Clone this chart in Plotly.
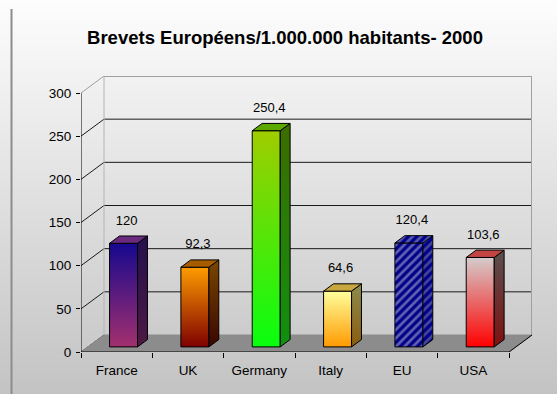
import plotly.graph_objects as go

# ---- data ----
categories = ["France", "UK", "Germany", "Italy", "EU", "USA"]
values = [120, 92.3, 250.4, 64.6, 120.4, 103.6]
y_ticks = [0, 50, 100, 150, 200, 250, 300]
title_text = "Brevets Européens/1.000.000 habitants- 2000"

# ---- page / plot geometry (pixels) ----
W, H = 557, 394
M_L, M_R, M_T, M_B = 81, 25, 76, 42
FRONT_W_PX = 428          # width of the front category axis
DEPTH_PX = (23, 17)       # oblique offset of the back wall
Y_MAX = 300

px_per_cat = FRONT_W_PX / len(categories)
px_per_unit = (H - M_T - M_B - DEPTH_PX[1]) / Y_MAX
DX = DEPTH_PX[0] / px_per_cat
DY = DEPTH_PX[1] / px_per_unit
X0, X1 = -0.5, len(categories) - 0.5

BAR_W = 28 / px_per_cat   # front face width
F0, F1 = 0.30, 0.73       # depth of bar front / back faces
LABEL_GAP = 22 / px_per_unit

FONT = "Liberation Sans, Arial, sans-serif"

# ---- bar styles: front gradient (bottom, top), side gradient (bottom, top), top face ----
front_grad = [("#a3306e", "#16088e"), ("#7e0000", "#ff9c00"), ("#08ff10", "#a0cc00"),
              ("#ff9a00", "#ffff9c"), None, ("#ff0000", "#d4cccc")]
side_grad = [("#4c1a44", "#24104e"), ("#3a0600", "#7a4600"), ("#109010", "#3c6c00"),
             ("#8a5c10", "#8c8c50"), None, ("#801010", "#5a5050")]
top_col = ["#6a2a80", "#a85c00", "#5aa800", "#c8a640", None, "#c44444"]
eu_navy = "#00008a"
eu_light = ["#c4c4d8", "#8c8ca4", "#b0b0c8"]  # stripe colour on front, side, top

fig = go.Figure()


def poly(xs, ys, line=None, **kw):
    fig.add_trace(go.Scatter(
        x=list(xs) + [xs[0]], y=list(ys) + [ys[0]], mode="lines", fill="toself",
        line=line or dict(color="black", width=1), hoverinfo="skip", showlegend=False, **kw))


# floor slab
poly([X0, X1, X1 + DX, X0 + DX], [0, 0, DY, DY],
     fillcolor="#8c8c8c", line=dict(color="#8c8c8c", width=1))

# bars as three visible faces each
for i, v in enumerate(values):
    xl = i + F0 * DX - BAR_W / 2
    xr = xl + BAR_W
    ddx = (F1 - F0) * DX
    yb0, yb1 = F0 * DY, F1 * DY
    front = ([xl, xr, xr, xl], [yb0, yb0, v + yb0, v + yb0])
    side = ([xr, xr + ddx, xr + ddx, xr], [yb0, yb1, v + yb1, v + yb0])
    top = ([xl, xr, xr + ddx, xl + ddx], [v + yb0, v + yb0, v + yb1, v + yb1])
    if front_grad[i] is None:
        for face, light in zip((front, side, top), eu_light):
            poly(*face, fillcolor=eu_navy,
                 fillpattern=dict(shape="/", fgcolor=light, bgcolor=eu_navy, size=6,
                                  solidity=0.45))
    else:
        poly(*front, fillgradient=dict(type="vertical",
                                       colorscale=[[0, front_grad[i][0]], [1, front_grad[i][1]]]))
        poly(*side, fillgradient=dict(type="vertical",
                                      colorscale=[[0, side_grad[i][0]], [1, side_grad[i][1]]]))
        poly(*top, fillcolor=top_col[i])

# value labels
fig.add_trace(go.Scatter(
    x=[i + 0.43 * DX for i in range(len(values))],
    y=[v + F0 * DY + LABEL_GAP for v in values],
    mode="text",
    text=[f"{v:g}".replace(".", ",") for v in values],
    textposition="middle center",
    textfont=dict(family=FONT, size=13, color="black"),
    hoverinfo="skip", showlegend=False))

shapes = []
# page background gradient (paper coordinates)
plot_h = H - M_T - M_B
plot_w = W - M_L - M_R
step = 2
for py in range(0, H, step):
    t = py / H
    g = round(253 - 58 * t)
    shapes.append(dict(type="rect", xref="paper", yref="paper", layer="below",
                       x0=-M_L / plot_w, x1=(W - M_L) / plot_w,
                       y0=(H - M_B - py - step) / plot_h, y1=(H - M_B - py) / plot_h,
                       fillcolor=f"rgb({g},{g},{g})", line=dict(width=0)))
# frame edge on the left
shapes.append(dict(type="line", xref="paper", yref="paper", layer="below",
                   x0=(11.5 - M_L) / plot_w, x1=(11.5 - M_L) / plot_w,
                   y0=(H - M_B - 9) / plot_h, y1=-M_B / plot_h,
                   line=dict(color="#8c8c8c", width=2)))

# back-wall gridlines and side-wall diagonals
for t in y_ticks:
    if 0 < t < Y_MAX:
        shapes.append(dict(type="line", layer="below", x0=X0 + DX, x1=X1 + DX,
                           y0=t + DY, y1=t + DY, line=dict(color="#1a1a1a", width=1)))
    diag_col = "#a0a0a0" if t == Y_MAX else "#1a1a1a"
    shapes.append(dict(type="line", layer="below", x0=X0, x1=X0 + DX,
                       y0=t, y1=t + DY, line=dict(color=diag_col, width=1)))
# back wall border
shapes.append(dict(type="line", layer="below", x0=X0 + DX, x1=X0 + DX, y0=DY, y1=Y_MAX + DY,
                   line=dict(color="#b4b4b4", width=1)))
shapes.append(dict(type="line", layer="below", x0=X0 + DX, x1=X1 + DX, y0=Y_MAX + DY,
                   y1=Y_MAX + DY, line=dict(color="#a0a0a0", width=2)))
shapes.append(dict(type="line", layer="below", x0=X1 + DX, x1=X1 + DX, y0=DY, y1=Y_MAX + DY,
                   line=dict(color="#a0a0a0", width=2)))
# axis lines
shapes.append(dict(type="line", x0=X0, x1=X0, y0=-3 / px_per_unit, y1=Y_MAX,
                   line=dict(color="black", width=1)))
shapes.append(dict(type="line", x0=X0, x1=X1, y0=0, y1=0, line=dict(color="black", width=1)))
shapes.append(dict(type="line", x0=X1, x1=X1 + DX, y0=0, y1=DY,
                   line=dict(color="black", width=1)))

fig.update_layout(
    width=W, height=H, autosize=False,
    margin=dict(l=M_L, r=M_R, t=M_T, b=M_B, pad=0),
    paper_bgcolor="#c8c8c8", plot_bgcolor="rgba(0,0,0,0)",
    showlegend=False,
    font=dict(family=FONT, size=13, color="black"),
    title=dict(text=f"<b>{title_text}</b>", x=285 / W, xref="container", xanchor="center",
               y=1 - 38 / H, yref="container", yanchor="middle",
               font=dict(family=FONT, size=18.5, color="black")),
    shapes=shapes,
)
fig.update_xaxes(
    range=[X0, X1 + DX], showgrid=False, zeroline=False, showline=False,
    tickmode="array", tickvals=list(range(len(categories))), ticktext=categories,
    ticks="", ticklabelstandoff=8, automargin=False,
    tickfont=dict(family=FONT, size=13.5, color="black"),
    minor=dict(tickmode="array", tickvals=[k - 0.5 for k in range(len(categories) + 1)],
               ticks="outside", ticklen=5, tickcolor="black", tickwidth=1, showgrid=False),
)
fig.update_yaxes(
    range=[0, Y_MAX + DY], showgrid=False, zeroline=False, showline=False,
    tickmode="array", tickvals=y_ticks, ticks="outside", ticklen=4, tickcolor="black",
    tickwidth=1, ticklabelstandoff=2, automargin=False,
    tickfont=dict(family=FONT, size=13.5, color="black"),
)

fig.write_html("out.html")
